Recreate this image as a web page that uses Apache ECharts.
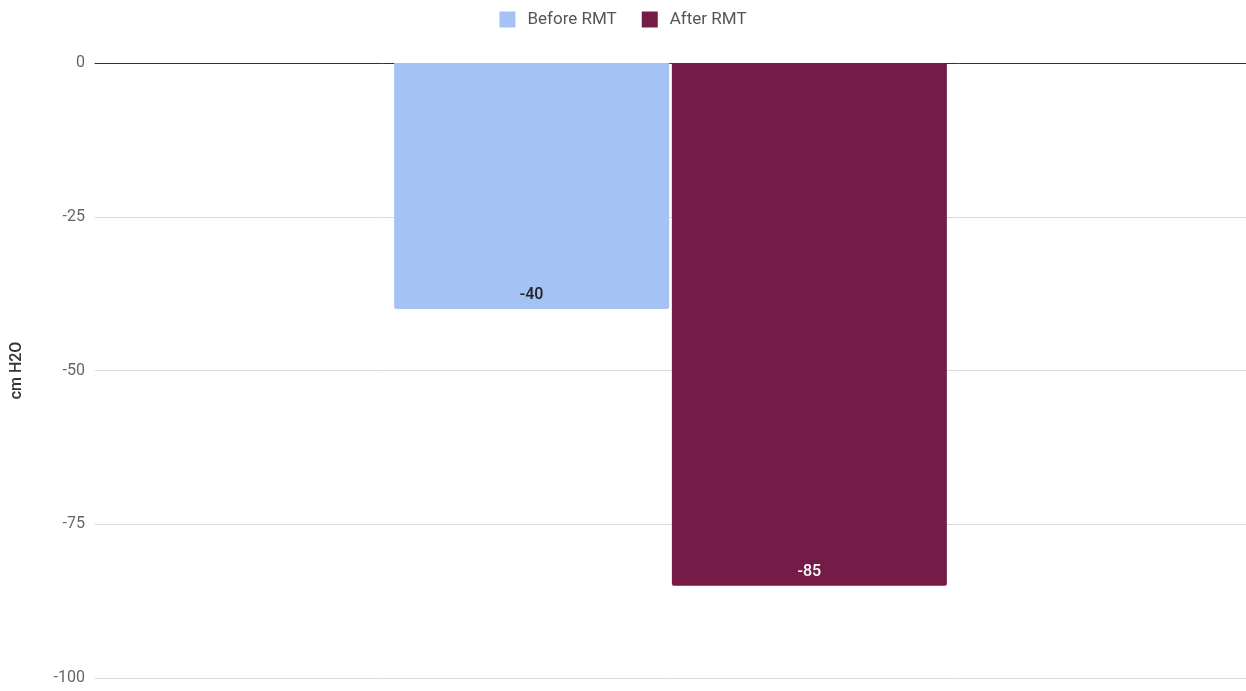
<!DOCTYPE html>
<html>
<head>
<meta charset="utf-8">
<script src="https://cdn.jsdelivr.net/npm/echarts@6/dist/echarts.min.js"></script>
<style>html,body{margin:0;padding:0;background:#fff;}#c{width:1246px;height:691px;}</style>
</head>
<body>
<div id="c"></div>
<script>
const categories = [''];
const beforeRMT = [-40];
const afterRMT = [-85];
const seriesNames = ['Before RMT', 'After RMT'];

const chart = echarts.init(document.getElementById('c'));
const labelCommon = {
  show: true,
  position: 'insideBottom',
  distance: 6,
  fontFamily: 'Roboto',
  fontSize: 16,
  fontWeight: 500
};
chart.setOption({
  animation: false,
  textStyle: { fontFamily: 'Roboto' },
  legend: {
    top: 6,
    left: 'center',
    itemWidth: 16,
    itemHeight: 16,
    itemGap: 25,
    icon: 'rect',
    itemStyle: { borderRadius: 2 },
    textStyle: { color: '#555', fontSize: 17, fontFamily: 'Roboto', padding: [0, 0, 0, 7] },
    data: seriesNames
  },
  grid: { left: 95, right: 0, top: 63, bottom: 13, containLabel: false },
  xAxis: {
    type: 'category',
    data: categories,
    position: 'top',
    axisLine: { show: true, lineStyle: { color: '#333', width: 1 } },
    axisTick: { show: false },
    axisLabel: { show: false }
  },
  yAxis: {
    type: 'value',
    min: -100,
    max: 0,
    interval: 25,
    name: 'cm H2O',
    nameLocation: 'middle',
    nameGap: 70,
    nameTextStyle: { color: '#333', fontSize: 16, fontFamily: 'Roboto', fontWeight: 500 },
    axisLine: { show: false },
    axisTick: { show: false },
    axisLabel: { color: '#666', fontSize: 16, margin: 10, fontFamily: 'Roboto' },
    splitLine: { lineStyle: { color: '#d9d9d9' } }
  },
  series: [
    {
      name: seriesNames[0],
      type: 'bar',
      data: beforeRMT,
      barWidth: 275,
      barGap: '1%',
      itemStyle: { color: '#a4c2f4', borderRadius: [0, 0, 2, 2] },
      label: Object.assign({ color: '#222' }, labelCommon)
    },
    {
      name: seriesNames[1],
      type: 'bar',
      data: afterRMT,
      barWidth: 275,
      barGap: '1%',
      itemStyle: { color: '#741b47', borderRadius: [0, 0, 2, 2] },
      label: Object.assign({ color: '#fff' }, labelCommon)
    }
  ]
});
</script>
</body>
</html>
